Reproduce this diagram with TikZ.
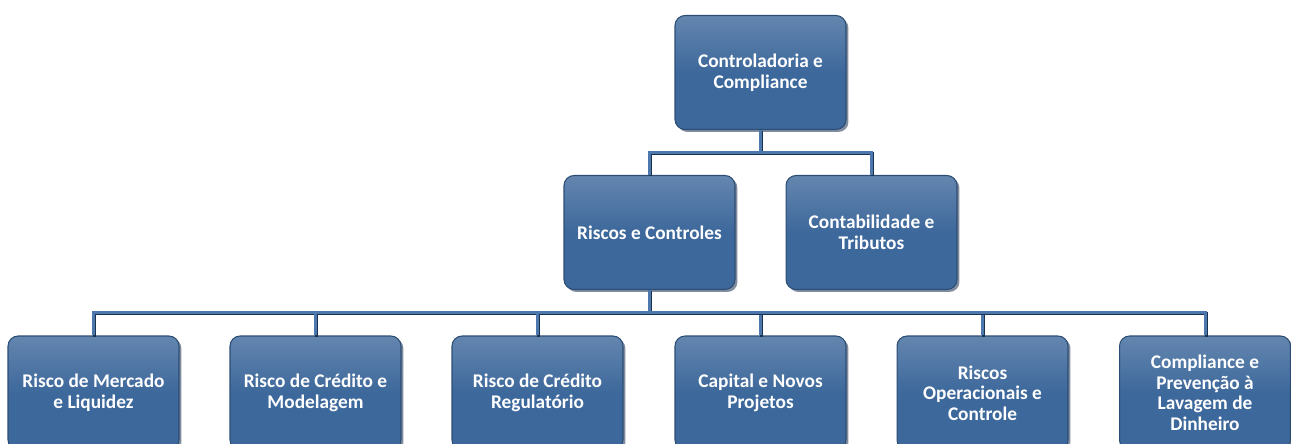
\documentclass[tikz,border=0pt]{standalone}
\usepackage{fontspec}
\setmainfont{Carlito}
\usetikzlibrary{calc, shadows}
\definecolor{boxblue}{HTML}{3D689B}
\definecolor{boxedge}{HTML}{2C4D74}
\definecolor{linkblue}{HTML}{4C78AE}
\definecolor{linkdark}{HTML}{1B3150}

\tikzset{
    unit/.style={rounded corners=0.2cm, draw=boxedge, line width=0.6pt,
        top color=boxblue!80!white, bottom color=boxblue, middle color=boxblue,
        minimum width=3.42cm, minimum height=2.28cm, inner sep=2pt,
        align=center, text=white, font=\fontsize{11}{11.7}\selectfont\bfseries,
        drop shadow={shadow xshift=1.4pt, shadow yshift=-1.4pt, opacity=0.55, fill=linkdark}},
    link/.style={draw=linkblue, line width=1.7pt,
        preaction={draw=linkdark, line width=1.7pt, transform canvas={shift={(0.6pt,-0.6pt)}}}}
}

\begin{document}
\begin{tikzpicture}[x=0.02cm, y=-0.02cm]
        \useasboundingbox (0,0) rectangle (1291,443);

        % Top of the chart
        \node[unit] (ctrl) at (760.5,72.5) {Controladoria e\\Compliance};

        % Second level
        \node[unit] (risc) at (649.5,232.5) {Riscos e Controles};
        \node[unit] (cont) at (871.5,232.5) {Contabilidade e\\Tributos};

        % Third level, below Riscos e Controles
        \node[unit] (merc) at (93.5,393) {Risco de Mercado\\e Liquidez};
        \node[unit] (cred) at (315.5,393) {Risco de Cr\'edito e\\Modelagem};
        \node[unit] (regu) at (537.5,393) {Risco de Cr\'edito\\Regulat\'orio};
        \node[unit] (capi) at (760.5,393) {Capital e Novos\\Projetos};
        \node[unit] (oper) at (982.5,393) {Riscos\\Operacionais e\\Controle};
        \node[unit] (plda) at (1205,393) {Compliance e\\Preven\c{c}\~ao \`a\\Lavagem de\\Dinheiro};

        % Connectors
        \foreach \c in {risc,cont} {
            \draw[link] (ctrl.south) |- ($(ctrl.south)!0.5!(\c.north)$) -| (\c.north);
        }
        \foreach \c in {merc,cred,regu,capi,oper,plda} {
            \draw[link] (risc.south) |- ($(risc.south)!0.5!(\c.north)$) -| (\c.north);
        }

    \end{tikzpicture}
\end{document}
